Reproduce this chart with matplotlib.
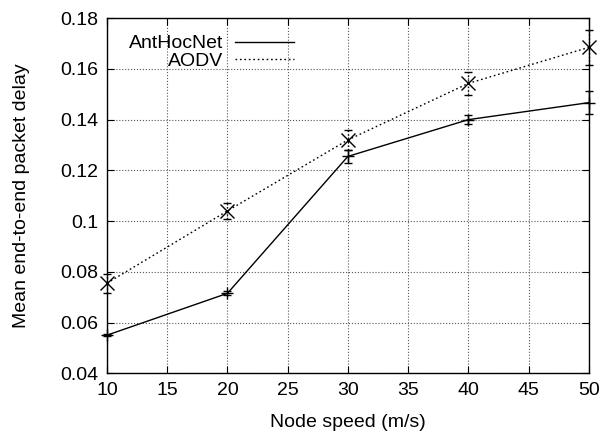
import matplotlib
matplotlib.use("Agg")
import matplotlib.pyplot as plt
from matplotlib.lines import Line2D

# Daten
speeds = [10, 20, 30, 40, 50]
anthocnet = [0.055, 0.0715, 0.1255, 0.140, 0.1467]
anthocnet_err = [0.0005, 0.0008, 0.0025, 0.0017, 0.0045]
aodv = [0.0755, 0.104, 0.132, 0.1543, 0.1685]
aodv_err = [0.0038, 0.003, 0.004, 0.0046, 0.007]

plt.rcParams['font.family'] = ['Liberation Sans', 'DejaVu Sans']
plt.rcParams['font.size'] = 14

fig = plt.figure(figsize=(6.04, 4.33), dpi=100)
ax = fig.add_axes([0.177, 0.138, 0.798, 0.820])

dotted = (0, (1.2, 2))
eb1 = ax.errorbar(speeds, anthocnet, yerr=anthocnet_err, color='black', lw=1.0,
                  marker='+', markersize=9, mew=1.0, capsize=3, elinewidth=1.0,
                  capthick=1.0)
eb2 = ax.errorbar(speeds, aodv, yerr=aodv_err, color='black', lw=1.0, ls=dotted,
                  marker='x', markersize=10, mew=1.0, capsize=3, elinewidth=1.0,
                  capthick=1.0)
eb2[2][0].set_linestyle(':')
for eb in (eb1, eb2):
    for art in [eb[0]] + list(eb[1]) + list(eb[2]):
        art.set_clip_on(False)

ax.set_xlim(10, 50)
ax.set_ylim(0.04, 0.18)
ax.set_xticks(range(10, 51, 5))
ax.set_yticks([0.04, 0.06, 0.08, 0.1, 0.12, 0.14, 0.16, 0.18])
ax.set_yticklabels(['0.04', '0.06', '0.08', '0.1', '0.12', '0.14', '0.16', '0.18'])
ax.grid(True, color='#555555', linestyle=':', linewidth=0.8)
ax.tick_params(direction='in', length=5, top=True, right=True, pad=6)
for s in ax.spines.values():
    s.set_linewidth(1.0)

ax.set_xlabel('Node speed (m/s)', labelpad=11)
ax.set_ylabel('Mean end-to-end packet delay', labelpad=22)

handles = [Line2D([], [], color='black', lw=1.0),
           Line2D([], [], color='black', lw=1.0, ls=dotted)]
leg = ax.legend(handles, ['AntHocNet', 'AODV'], loc='upper left',
                bbox_to_anchor=(0.03, 0.975), frameon=False,
                markerfirst=False, handlelength=3.0, handletextpad=0.6,
                labelspacing=0.0, borderaxespad=0)
# Text rechtsbündig wie in gnuplot
for col in leg._legend_box.get_children()[1].get_children():
    col.align = 'right'

fig.savefig('out.png', dpi=100)
